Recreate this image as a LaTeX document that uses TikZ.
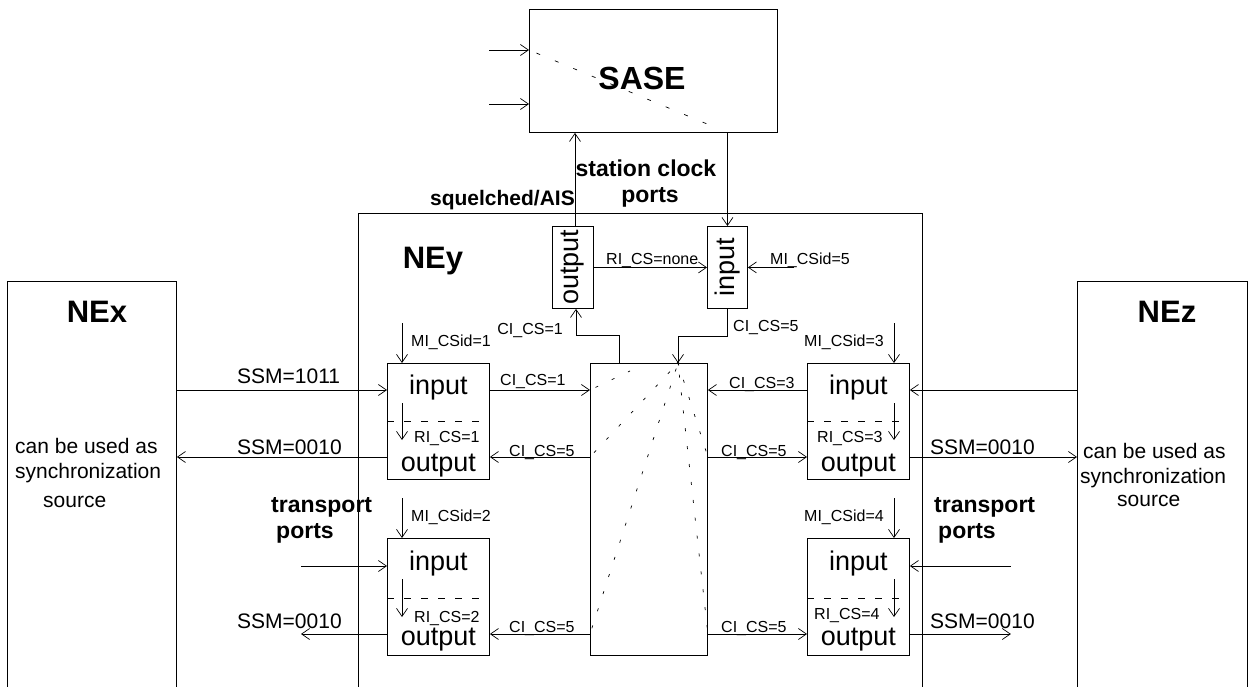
\documentclass[tikz,border=0pt]{standalone}
\usepackage{fontspec}
\setmainfont{Liberation Sans}
\usetikzlibrary{arrows.meta}
\newcommand\myfs[1]{\fontsize{#1}{#1}\selectfont}
\begin{document}
\begin{tikzpicture}[x=1pt,y=-1pt,
  box/.style={draw, line width=0.9pt, inner sep=0pt, anchor=north west},
  ln/.style={line width=0.7pt},
  arr/.style={ln, -{Straight Barb[length=8pt,width=11pt,line width=0.7pt]}},
  lbl/.style={inner sep=0pt, anchor=base west, font=\myfs{16}},
  lble/.style={inner sep=0pt, anchor=base east, font=\myfs{16}},
  ssm/.style={inner sep=0pt, anchor=base west, font=\myfs{21}},
  big/.style={inner sep=0pt, anchor=base, font=\myfs{31}\bfseries},
  bold/.style={inner sep=0pt, anchor=base west, font=\myfs{23}\bfseries},
  port/.style={inner sep=0pt, anchor=base, font=\myfs{27}},
  txt/.style={inner sep=0pt, anchor=base west, font=\myfs{21}},
  sep/.style={line width=0.7pt, dash pattern=on 7pt off 10pt},
  fan/.style={line width=0.7pt, dash pattern=on 3pt off 15pt, dash phase=-6pt}]
\useasboundingbox (0,0) rectangle (1253,687);
\clip (0,0) rectangle (1253,687);

% ---------- boxes ----------
\node[box, minimum width=248pt, minimum height=123pt] (sase) at (529,9) {};
\node[box, minimum width=564pt, minimum height=500pt] (ney) at (358,213) {};
\node[box, minimum width=169pt, minimum height=430pt] (nex) at (7,281) {};
\node[box, minimum width=170pt, minimum height=430pt] (nez) at (1077,281) {};
\node[box, minimum width=41pt, minimum height=82pt] (outSC) at (552,226) {};
\node[box, minimum width=40pt, minimum height=82pt] (inSC) at (707,226) {};
\node[box, minimum width=117pt, minimum height=292pt] (sw) at (590,363) {};
\node[box, minimum width=102pt, minimum height=116pt] (p1) at (387,363) {};
\node[box, minimum width=102pt, minimum height=117pt] (p2) at (387,538) {};
\node[box, minimum width=102pt, minimum height=116pt] (p3) at (807,363) {};
\node[box, minimum width=102pt, minimum height=117pt] (p4) at (807,538) {};

% ---------- big titles ----------
\node[inner sep=0pt, anchor=base, font=\myfs{32}\bfseries] (saset) at (642,90) {SASE};
\node[big] (next) at (97,322) {NEx};
\node[big] (nezt) at (1167,322) {NEz};
\node[big] (neyt) at (433,269) {NEy};

\node[inner sep=0pt, anchor=base east, font=\myfs{21}\bfseries] (sq) at (575,206) {squelched/AIS};
\node[inner sep=0pt, anchor=base, font=\myfs{23}\bfseries] (scc) at (646,177) {station clock};
\node[inner sep=0pt, anchor=base, font=\myfs{23}\bfseries] (scp) at (650,203) {ports};
\node[bold] (tl1) at (271,512) {transport};
\node[bold] (tl2) at (276,538) {ports};
\node[bold] (tr1) at (934,512) {transport};
\node[bold] (tr2) at (938,538) {ports};

\node[txt] (nx1) at (15,453) {can be used as};
\node[txt] (nx2) at (15,478) {synchronization};
\node[txt] (nx3) at (43,507) {source};
\node[txt] (nz1) at (1083,458) {can be used as};
\node[txt] (nz2) at (1080,483) {synchronization};
\node[txt] (nz3) at (1117,506) {source};

% ---------- port texts ----------
\node[port] (p1i) at ([yshift=-31pt]p1.north) {input};
\node[port] (p1o) at ([yshift=-108pt]p1.north) {output};
\node[port] (p2i) at ([yshift=-32pt]p2.north) {input};
\node[port] (p2o) at ([yshift=-107pt]p2.north) {output};
\node[port] (p3i) at ([yshift=-31pt]p3.north) {input};
\node[port] (p3o) at ([yshift=-108pt]p3.north) {output};
\node[port] (p4i) at ([yshift=-32pt]p4.north) {input};
\node[port] (p4o) at ([yshift=-107pt]p4.north) {output};
\node[inner sep=0pt, font=\myfs{27}, rotate=90] (outSCt) at (outSC.center) {output};
\node[inner sep=0pt, font=\myfs{27}, rotate=90] (inSCt) at (inSC.center) {input};

% separators
\draw[sep] ([yshift=-58pt]p1.north west) -- ([yshift=-58pt]p1.north east);
\draw[sep] ([yshift=-60pt]p2.north west) -- ([yshift=-60pt]p2.north east);
\draw[sep] ([yshift=-58pt]p3.north west) -- ([yshift=-58pt]p3.north east);
\draw[sep] ([yshift=-60pt]p4.north west) -- ([yshift=-60pt]p4.north east);

% ---------- coordinates ----------
\coordinate (p1a) at ([yshift=-27pt]p1.north west);
\coordinate (p1b) at ([yshift=-94pt]p1.north west);
\coordinate (p1c) at ([yshift=-27pt]p1.north east);
\coordinate (p1d) at ([yshift=-94pt]p1.north east);
\coordinate (p2a) at ([yshift=-28pt]p2.north west);
\coordinate (p2b) at ([yshift=-96pt]p2.north west);
\coordinate (p2d) at ([yshift=-96pt]p2.north east);
\coordinate (p3a) at ([yshift=-27pt]p3.north east);
\coordinate (p3b) at ([yshift=-94pt]p3.north east);
\coordinate (p3c) at ([yshift=-27pt]p3.north west);
\coordinate (p3d) at ([yshift=-94pt]p3.north west);
\coordinate (p4a) at ([yshift=-28pt]p4.north east);
\coordinate (p4b) at ([yshift=-96pt]p4.north east);
\coordinate (p4d) at ([yshift=-96pt]p4.north west);
\coordinate (swo) at ([xshift=29pt]sw.north west);
\coordinate (swi) at ([xshift=88pt]sw.north west);
\coordinate (x2a) at ([xshift=-86pt]p2a);
\coordinate (x2b) at ([xshift=-86pt]p2b);
\coordinate (x4a) at ([xshift=101pt]p4a);
\coordinate (x4b) at ([xshift=101pt]p4b);
\coordinate (f1) at ([xshift=40pt,yshift=-8pt]sw.north west);

% ---------- external connectors ----------
\draw[arr] (nex.east |- p1a) -- (p1a);
\draw[arr] (p1b) -- (nex.east |- p1b);
\draw[arr] (x2a) -- (p2a);
\draw[arr] (p2b) -- (x2b);
\draw[arr] (nez.west |- p3a) -- (p3a);
\draw[arr] (p3b) -- (nez.west |- p3b);
\draw[arr] (x4a) -- (p4a);
\draw[arr] (p4b) -- (x4b);
\node[ssm] (s1) at (237,383) {SSM=1011};
\node[ssm] (s2) at (237,454) {SSM=0010};
\node[ssm] (s3) at (237,628) {SSM=0010};
\node[ssm] (s4) at (930,454) {SSM=0010};
\node[ssm] (s5) at (930,628) {SSM=0010};

% ---------- port <-> switch ----------
\draw[arr] (p1c) -- (sw.west |- p1c);
\draw[arr] (sw.west |- p1d) -- (p1d);
\draw[arr] (sw.west |- p2d) -- (p2d);
\draw[arr] (p3c) -- (sw.east |- p3c);
\draw[arr] (sw.east |- p3d) -- (p3d);
\draw[arr] (sw.east |- p4d) -- (p4d);
\node[lbl] (c1) at (500,385) {CI\_CS=1};
\node[lbl] (c2) at (509,456) {CI\_CS=5};
\node[lbl] (c3) at (509,632) {CI\_CS=5};
\node[lbl] (c4) at (729,388) {CI\_CS=3};
\node[lbl] (c5) at (721,456) {CI\_CS=5};
\node[lbl] (c6) at (721,632) {CI\_CS=5};

% ---------- MI / RI arrows ----------
\draw[arr] ([xshift=15pt,yshift=40pt]p1.north west) -- ([xshift=15pt]p1.north west);
\draw[arr] ([xshift=15pt,yshift=40pt]p2.north west) -- ([xshift=15pt]p2.north west);
\draw[arr] ([xshift=87pt,yshift=40pt]p3.north west) -- ([xshift=87pt]p3.north west);
\draw[arr] ([xshift=87pt,yshift=40pt]p4.north west) -- ([xshift=87pt]p4.north west);
\draw[arr] ([xshift=15pt,yshift=-40pt]p1.north west) -- ([xshift=15pt,yshift=-77pt]p1.north west);
\draw[arr] ([xshift=15pt,yshift=-41pt]p2.north west) -- ([xshift=15pt,yshift=-79pt]p2.north west);
\draw[arr] ([xshift=87pt,yshift=-40pt]p3.north west) -- ([xshift=87pt,yshift=-77pt]p3.north west);
\draw[arr] ([xshift=87pt,yshift=-41pt]p4.north west) -- ([xshift=87pt,yshift=-79pt]p4.north west);
\node[lbl] (m1) at (411,346) {MI\_CSid=1};
\node[lbl] (m2) at (411,521) {MI\_CSid=2};
\node[lble] (m3) at (884,346) {MI\_CSid=3};
\node[lble] (m4) at (884,521) {MI\_CSid=4};
\node[lbl] (r1) at (414,442) {RI\_CS=1};
\node[lbl] (r2) at (414,622) {RI\_CS=2};
\node[lbl] (r3) at (817,442) {RI\_CS=3};
\node[lbl] (r4) at (814,619) {RI\_CS=4};

% ---------- station clock ----------
\draw[arr] ([xshift=23pt]outSC.north west) -- ([xshift=23pt]outSC.north west |- sase.south);
\draw[arr] (inSC.north |- sase.south) -- (inSC.north);
\draw[arr] (outSC.east) -- (inSC.west);
\draw[arr] ([xshift=46pt]inSC.east) -- (inSC.east);
\draw[arr] (swo) -- ++(0,-28) -| ([xshift=24pt]outSC.south west);
\draw[arr] (inSC.south) -- ++(0,27) -| (swi);
\node[lbl] (rn) at (606,264) {RI\_CS=none};
\node[lbl] (m5) at (770,264) {MI\_CSid=5};
\node[lble] (c7) at (563,334) {CI\_CS=1};
\node[lbl] (c8) at (733,331) {CI\_CS=5};

% ---------- SASE inputs ----------
\draw[arr] ([shift={(-40pt,-41pt)}]sase.north west) -- ([yshift=-41pt]sase.north west);
\draw[arr] ([shift={(-40pt,-95pt)}]sase.north west) -- ([yshift=-95pt]sase.north west);
\draw[line width=0.7pt, dash pattern=on 4pt off 16pt, dash phase=-8pt]
  ([yshift=-41pt]sase.north west) -- ([shift={(183pt,-117pt)}]sase.north west);

% ---------- switch fabric ----------
\draw[fan] (p1c -| sw.west) -- (f1);
\draw[fan] (p1d -| sw.west) -- (swi);
\draw[fan] (p2d -| sw.west) -- (swi);
\draw[fan] (p3d -| sw.east) -- (swi);
\draw[fan] (p4d -| sw.east) -- (swi);
\fill (swi) circle (1.3pt);
\end{tikzpicture}
\end{document}
